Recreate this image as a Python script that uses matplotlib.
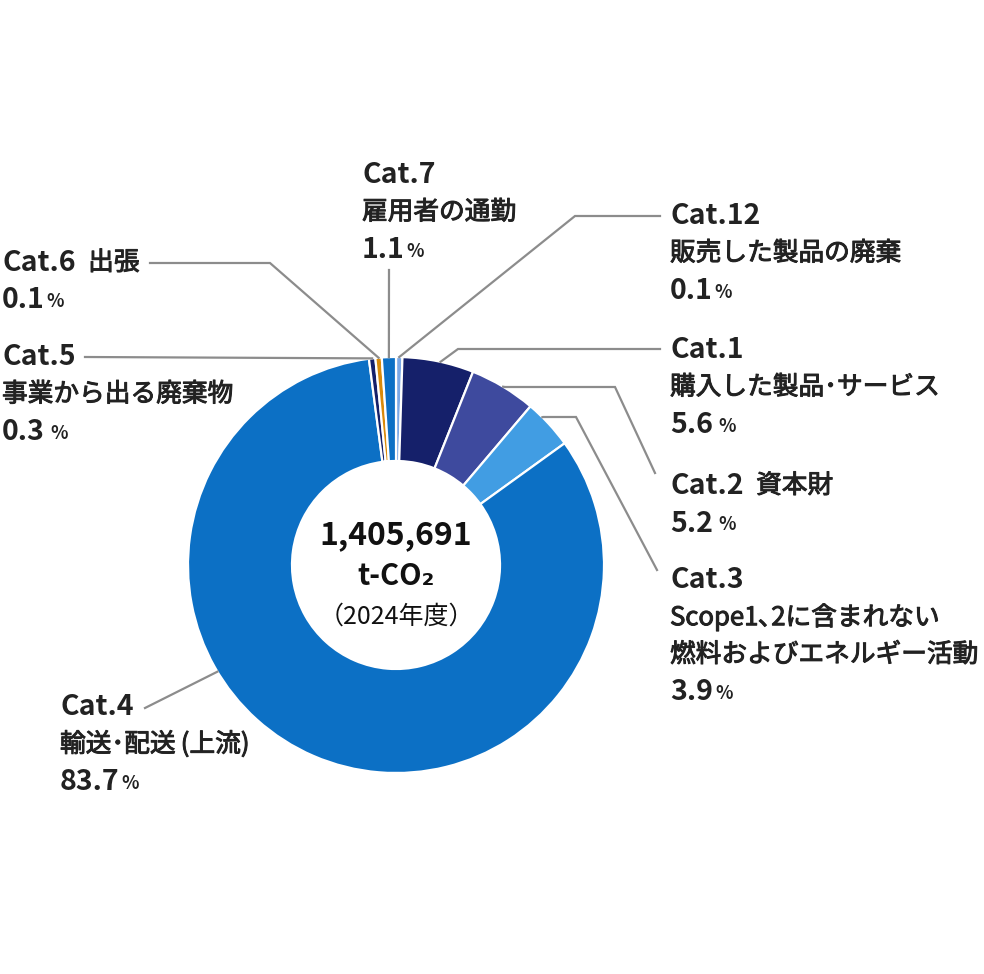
import numpy as np
import matplotlib

matplotlib.use("Agg")
import matplotlib.pyplot as plt  # noqa: E402
import matplotlib.patheffects as pe  # noqa: E402

plt.rcParams["font.family"] = ["Noto Sans CJK JP", "DejaVu Sans"]

# data: slice order clockwise from 12 o'clock
categories = ["Cat.12", "Cat.1", "Cat.2", "Cat.3", "Cat.4", "Cat.5", "Cat.6", "Cat.7"]
shares = [0.1, 5.6, 5.2, 3.9, 83.7, 0.3, 0.1, 1.1]
colors = ["#7aa8e6", "#15206a", "#3e4a9e", "#419de3", "#0c70c5", "#15206a", "#d98a0a", "#0c70c5"]
total_text = "1,405,691"
unit_text = "t-CO₂"
year_text = "（2024年度）"

TEXT = "#222222"
LINE = "#8c8c8c"
W, H = 984, 974
CX, CY, R = 396, 565, 208

fig = plt.figure(figsize=(W / 100, H / 100), dpi=100, facecolor="white")
ax = fig.add_axes([0, 0, 1, 1])

# tiny slices get a minimum visible width, like the original artwork
shown = np.maximum(np.array(shares), 0.5)
# y axis is flipped below, so counterclock=True draws clockwise on screen
wedges, _ = ax.pie(
    shown,
    colors=colors,
    startangle=-90,
    counterclock=True,
    center=(CX, CY),
    radius=R,
    wedgeprops=dict(width=R * 0.5, edgecolor="white", linewidth=1.6),
)
ax.set_xlim(0, W)
ax.set_ylim(H, 0)
ax.axis("off")


def wedge_point(i, t=0.5, r=R):
    w = wedges[i]
    a = np.deg2rad(w.theta1 + t * (w.theta2 - w.theta1))
    return CX + r * np.cos(a), CY + r * np.sin(a)


# label layout: text left x, first line y, lines, leader elbow points, anchor fraction
labels = {
    "Cat.12": (670, 216, ["Cat.12", "販売した製品の廃棄"], [(660, 216), (575, 216)], 0.5),
    "Cat.1": (670, 350, ["Cat.1", "購入した製品･サービス"], [(660, 349), (458, 349)], 0.53),
    "Cat.2": (670, 486, ["Cat.2\u2002資本財"], [(655, 473), (615, 387), (505, 387)], 0.5),
    "Cat.3": (670, 580, ["Cat.3", "Scope1､2に含まれない", "燃料およびエネルギー活動"],
              [(657, 570), (576, 417), (543, 417)], 0.32),
    "Cat.4": (60, 707, ["Cat.4", "輸送･配送\u2009(上流)"], [(145, 708)], 0.62),
    "Cat.5": (2, 357, ["Cat.5", "事業から出る廃棄物"], [(85, 357)], 0.5),
    "Cat.6": (2, 263, ["Cat.6\u2002出張"], [(150, 263), (270, 263)], 0.5),
    "Cat.7": (362, 175, ["Cat.7", "雇用者の通勤"], [(389, 270)], 0.5),
}
pct_space = {"Cat.5", "Cat.1", "Cat.2"}

jp_fx = [pe.withStroke(linewidth=0.7, foreground=TEXT)]
LH = 37.5
for i, cat in enumerate(categories):
    x, y, lines, elbows, t = labels[cat]
    for k, line in enumerate(lines):
        if k == 0:
            # category code bold, description (after the en space) lighter
            head, _, tail = line.partition("\u2002")
            h = ax.text(x, y, head, fontsize=20.5, fontweight="bold", color=TEXT, va="center")
            if tail:
                ax.annotate(tail, xy=(1, 0.5), xycoords=h, xytext=(9, 0), textcoords="offset points",
                            fontsize=18.5, color=TEXT, va="center", path_effects=jp_fx)
        else:
            ax.text(x, y + k * LH, line, fontsize=18.5, color=TEXT, va="center", path_effects=jp_fx)
    yp = y + len(lines) * LH
    num = ax.text(x, yp, f"{shares[i]:.1f}", fontsize=20.5, fontweight="bold", color=TEXT, va="center")
    ax.annotate("%", xy=(1, 0.12), xycoords=num, xytext=(4 if cat in pct_space else 1.5, 0),
                textcoords="offset points", fontsize=13, fontweight="bold", color=TEXT, va="bottom")

    ex, ey = wedge_point(i, t)
    pts = elbows + [(ex, ey)]
    ax.plot([p[0] for p in pts], [p[1] for p in pts], color=LINE, lw=1.6,
            solid_joinstyle="miter", zorder=1)

# centre text
ax.text(CX, 535, total_text, fontsize=23, fontweight="bold", color="#111111", ha="center", va="center")
ax.text(CX, 576, unit_text, fontsize=21, fontweight="bold", color="#111111", ha="center", va="center")
ax.text(CX, 617, year_text, fontsize=18, color="#111111", ha="center", va="center")

fig.savefig("out.png", dpi=100, facecolor="white")
plt.close(fig)
